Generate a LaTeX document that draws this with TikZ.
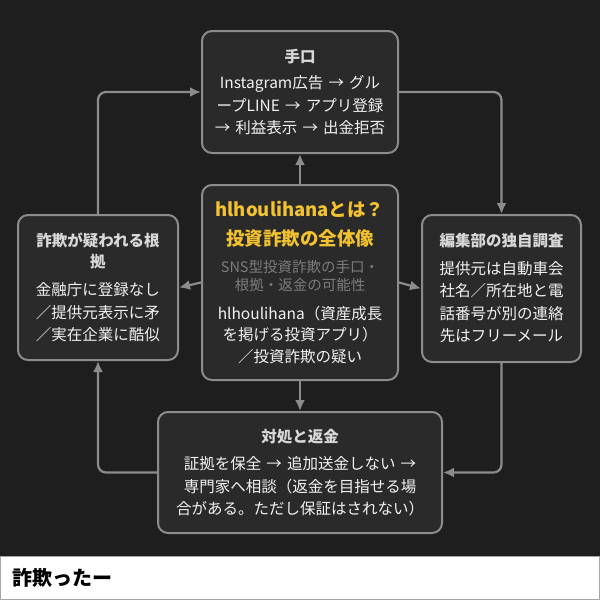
\documentclass[tikz,border=0pt]{standalone}
\usepackage{fontspec}
\setmainfont{Noto Sans CJK JP}
\usetikzlibrary{arrows.meta}
\definecolor{bgdark}{HTML}{1E1E1E}
\definecolor{boxfill}{HTML}{2A2A2A}
\definecolor{boxline}{HTML}{8C8C8C}
\definecolor{ttlgray}{HTML}{D8D8D8}
\definecolor{bodywhite}{HTML}{F2F2F2}
\definecolor{subgray}{HTML}{7C7C7C}
\definecolor{ttlyellow}{HTML}{F2C230}

\begin{document}
\begin{tikzpicture}[x=1pt,y=-1pt,
  box/.style={draw=boxline,line width=2pt,fill=boxfill,rounded corners=10pt,inner sep=0pt,
    align=center,text=bodywhite,font=\fontsize{15.5}{22.5}\selectfont},
  conn/.style={draw=boxline,line width=2.2pt,rounded corners=8pt,-{Latex[length=11pt,width=10pt]}}]
\useasboundingbox (0,0) rectangle (600,600);
\fill[bgdark] (0,0) rectangle (600,556);
\draw[fill=white,draw=gray!70,line width=1pt] (0.5,556) rectangle (599.5,599.5);
\node[anchor=west,inner sep=0pt,font=\fontsize{20}{24}\selectfont\bfseries] (footer) at (12,578) {詐欺ったー};

\node[box,minimum width=196pt,minimum height=122pt,text width=186pt] (teguchi) at (300,92)
  {{\bfseries\color{ttlgray}手口\par}\vspace{4pt}
   Instagram広告 → グル\\ープLINE → アプリ登録\\→ 利益表示 → 出金拒否};
\node[box,minimum width=196pt,minimum height=195pt,text width=190pt] (gaiyo) at (300,282.5)
  {{\fontsize{18.5}{29}\selectfont\bfseries\color{ttlyellow}hlhoulihanaとは？\\投資詐欺の全体像\par}\vspace{9pt}
   {\fontsize{14.5}{18}\selectfont\color{subgray}SNS型投資詐欺の手口・\\根拠・返金の可能性\par}\vspace{7pt}
   {\fontsize{15.5}{21.5}\selectfont hlhoulihana（資産成長\\を掲げる投資アプリ）\\／投資詐欺の疑い\par}};
\node[box,minimum width=160pt,minimum height=145pt,text width=150pt] (konkyo) at (98,287.5)
  {{\fontsize{15.5}{21}\selectfont\bfseries\color{ttlgray}詐欺が疑われる根\\拠\par}\vspace{6pt}
   金融庁に登録なし\\／提供元表示に矛\\／実在企業に酷似};
\node[box,minimum width=159pt,minimum height=147pt,text width=150pt] (chosa) at (501.5,288.5)
  {{\bfseries\color{ttlgray}編集部の独自調査\par}\vspace{5pt}
   提供元は自動車会\\社名／所在地と電\\話番号が別の連絡\\先はフリーメール};
\node[box,minimum width=284pt,minimum height=121pt,text width=274pt] (taisho) at (300,472.5)
  {{\bfseries\color{ttlgray}対処と返金\par}\vspace{5pt}
   証拠を保全 → 追加送金しない →\\専門家へ相談（返金を目指せる場\\合がある。ただし保証はされない）};

\draw[conn] (konkyo.north) |- (teguchi.west);
\draw[conn] (teguchi.east) -| (chosa.north);
\draw[conn] (chosa.south) |- (taisho.east);
\draw[conn] (taisho.west) -| (konkyo.south);
\draw[conn] (gaiyo.north) -- (teguchi.south);
\draw[conn] (gaiyo.south) -- (taisho.north);
\draw[conn] (gaiyo.west) -- (konkyo.east);
\draw[conn] (gaiyo.east) -- (chosa.west);
\end{tikzpicture}
\end{document}
